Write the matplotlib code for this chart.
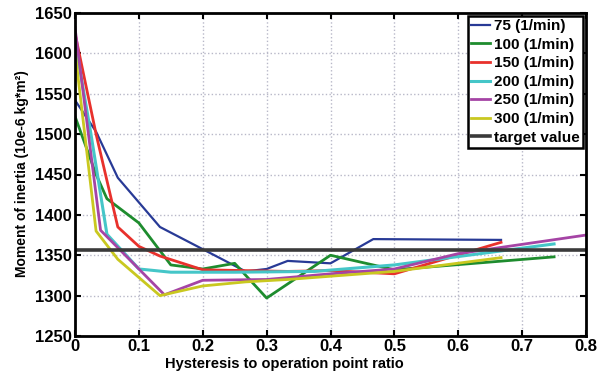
import matplotlib
matplotlib.use("Agg")
import matplotlib.pyplot as plt

plt.rcParams['font.family'] = ['Liberation Sans', 'DejaVu Sans']
plt.rcParams['font.weight'] = 'bold'

x75 = [0, 0.033, 0.067, 0.133, 0.267, 0.3, 0.333, 0.4, 0.467, 0.667]
y75 = [1542, 1503, 1446, 1385, 1330, 1333, 1343, 1340, 1370, 1369]

x100 = [0, 0.033, 0.05, 0.1, 0.15, 0.2, 0.25, 0.3, 0.4, 0.5, 0.75]
y100 = [1522, 1450, 1420, 1390, 1338, 1333, 1340, 1297, 1350, 1332, 1348]

x150 = [0, 0.033, 0.067, 0.1, 0.133, 0.2, 0.333, 0.4, 0.5, 0.667]
y150 = [1625, 1500, 1385, 1361, 1349, 1332, 1330, 1331, 1327, 1366]

x200 = [0, 0.025, 0.05, 0.1, 0.15, 0.25, 0.375, 0.5, 0.75]
y200 = [1615, 1500, 1376, 1333, 1329, 1329, 1330, 1338, 1364]

x250 = [0, 0.04, 0.14, 0.2, 0.3, 0.4, 0.5, 0.6, 0.8]
y250 = [1632, 1381, 1301, 1319, 1320, 1327, 1333, 1352, 1375]

x300 = [0, 0.033, 0.067, 0.133, 0.2, 0.267, 0.333, 0.5, 0.667]
y300 = [1603, 1380, 1345, 1300, 1312, 1317, 1320, 1330, 1347]

target = 1356

labels = ['75 (1/min)', '100 (1/min)', '150 (1/min)', '200 (1/min)',
          '250 (1/min)', '300 (1/min)', 'target value']
colors = ['#283a96', '#1e8c2e', '#e8312c', '#45c6c8', '#a544a5', '#c9c820', '#3a3a3a']

fig = plt.figure(figsize=(6.09, 3.74), dpi=100)
ax = fig.add_axes([75/609, 38/374, 511/609, 323/374])

series = [(x75, y75), (x100, y100), (x150, y150), (x200, y200), (x250, y250), (x300, y300)]
widths = [1.6, 2.0, 2.0, 2.2, 2.0, 2.0]
for (xs, ys), c, lab, w in zip(series, colors, labels, widths):
    ax.plot(xs, ys, color=c, lw=w, label=lab)
ax.axhline(target, color=colors[6], lw=2.6, label=labels[6])

ax.set_xlim(0, 0.8)
ax.set_ylim(1250, 1650)
ax.set_xticks([0, 0.1, 0.2, 0.3, 0.4, 0.5, 0.6, 0.7, 0.8])
ax.set_xticklabels(['0', '0.1', '0.2', '0.3', '0.4', '0.5', '0.6', '0.7', '0.8'])
ax.set_yticks(range(1250, 1651, 50))
ax.grid(True, color='#b8b8c8', linestyle=':', lw=1.0)
ax.tick_params(direction='in', top=True, right=True, length=4, width=1.5,
               labelsize=12, pad=2)
for lab in ax.get_xticklabels() + ax.get_yticklabels():
    lab.set_fontweight('bold')
for s in ax.spines.values():
    s.set_linewidth(2)

ax.set_xlabel('Hysteresis to operation point ratio', fontsize=10.5, fontweight='bold')
ax.xaxis.set_label_coords((284 - 75) / 511, -(364 - 336) / 323)
ax.xaxis.label.set_verticalalignment('center')
ax.set_ylabel('Moment of inertia (10e-6 kg*m²)', fontsize=10, fontweight='bold')
ax.yaxis.set_label_coords((22 - 75) / 511, (336 - 174) / 323)
ax.yaxis.label.set_verticalalignment('center')

leg = ax.legend(loc='upper right', frameon=True, fancybox=False,
                borderaxespad=0.2, handlelength=1.2, handletextpad=0.3,
                labelspacing=0.3, borderpad=0.2, prop={'weight': 'bold', 'size': 11})
leg.get_frame().set_edgecolor('black')
leg.get_frame().set_linewidth(1.8)
leg.get_frame().set_alpha(1)

fig.savefig('out.png', dpi=100)
